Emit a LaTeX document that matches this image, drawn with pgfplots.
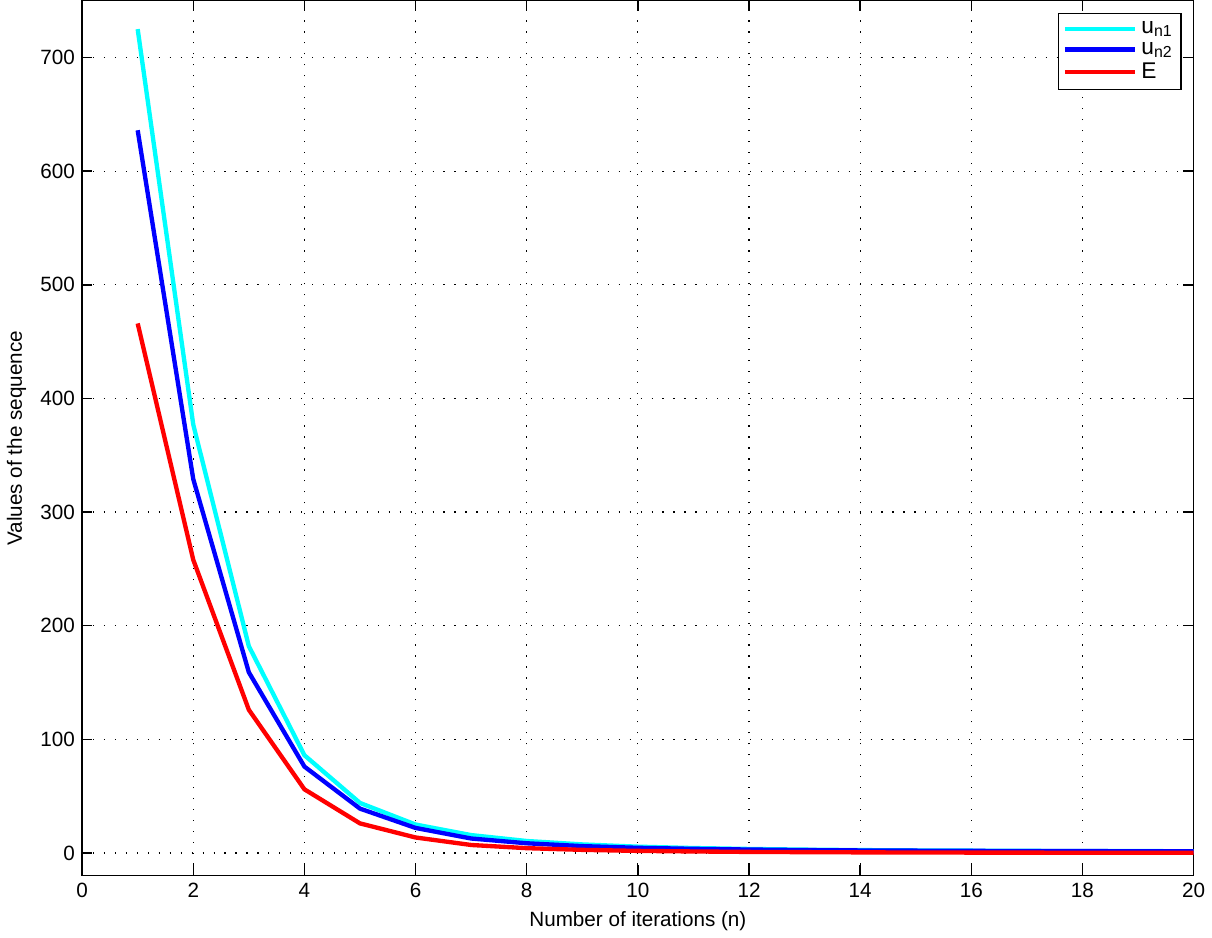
\documentclass[border=0pt]{standalone}
\usepackage{fontspec}
\setmainfont{Liberation Sans}
\usepackage{pgfplots}
\pgfplotsset{compat=1.18}
\definecolor{mcyan}{rgb}{0,1,1}
\definecolor{mblue}{rgb}{0,0,1}
\definecolor{mred}{rgb}{1,0,0}
\begin{document}
\begin{tikzpicture}
\begin{axis}[
  scale only axis, width=538pt, height=423.5pt,
  xmin=0, xmax=20, ymin=-20, ymax=750,
  xtick={0,2,...,20}, ytick={0,100,...,700},
  tick align=inside, major tick length=5pt,
  grid=major,
  major grid style={black, dash pattern=on 0.6pt off 4.7pt, line width=0.6pt},
  axis line style={line width=0.7pt},
  every tick/.style={black, line width=0.7pt},
  tick label style={font=\normalsize},
  /pgf/number format/assume math mode=true,
  xlabel={Number of iterations (n)},
  ylabel={Values of the sequence},
  label style={font=\normalsize},
  legend style={at={(1,1)}, anchor=north east, xshift=-5.8pt, yshift=-5.8pt,
    draw=black, line width=0.6pt, font=\fontsize{11}{12}\selectfont, row sep=-1.4pt,
    inner sep=2pt, cells={anchor=west}},
  legend image code/.code={\draw[#1, line width=2.1pt] (0pt,0pt) -- (34pt,0pt);},
  every axis plot/.append style={line width=2.1pt},
]
\addplot[mcyan] coordinates {
(1,725) (2,377) (3,182) (4,86) (5,44) (6,25) (7,15.7) (8,10.5) (9,7.5) (10,5.5)
(11,4.3) (12,3.5) (13,2.9) (14,2.5) (15,2.2) (16,2.0) (17,1.8) (18,1.7) (19,1.6) (20,1.5)};
\addlegendentry{u\textsubscript{n1}}
\addplot[mblue] coordinates {
(1,636) (2,329) (3,159) (4,76) (5,39) (6,22) (7,12.7) (8,8.5) (9,6) (10,4.5)
(11,3.6) (12,3) (13,2.5) (14,2.2) (15,2.0) (16,1.8) (17,1.7) (18,1.6) (19,1.5) (20,1.4)};
\addlegendentry{u\textsubscript{n2}}
\addplot[mred] coordinates {
(1,466) (2,258) (3,126) (4,56) (5,26) (6,13.6) (7,7) (8,4.2) (9,2.7) (10,1.8)
(11,1.3) (12,0.9) (13,0.7) (14,0.5) (15,0.4) (16,0.3) (17,0.25) (18,0.2) (19,0.2) (20,0.2)};
\addlegendentry{E}
\end{axis}
\end{tikzpicture}
\end{document}
